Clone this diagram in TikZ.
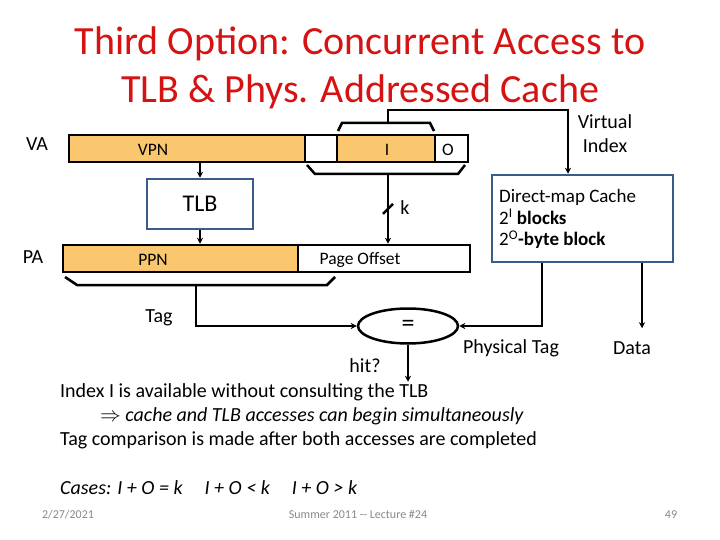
\documentclass[tikz,border=0pt]{standalone}
\usepackage{fontspec}
\setmainfont{Carlito}
\usetikzlibrary{shapes.geometric,arrows.meta,positioning}

\definecolor{titlered}{RGB}{214,18,18}
\definecolor{fieldorange}{RGB}{250,199,110}
\definecolor{boxblue}{RGB}{56,93,138}
\definecolor{footgray}{RGB}{137,137,137}

\tikzset{
  field/.style={draw, line width=2.5pt, minimum height=27pt, inner sep=0pt},
  hot/.style={field, fill=fieldorange},
  unitbox/.style={draw=boxblue, line width=2.5pt, inner sep=0pt},
  wire/.style={line width=2.5pt},
  arrow/.style={wire, -{Stealth[length=6pt,width=6pt]}},
  lbl/.style={inner sep=0pt, font=\fontsize{20}{24}\selectfont},
  small/.style={inner sep=0pt, font=\fontsize{17.5}{20}\selectfont},
  body/.style={inner sep=0pt, anchor=west, font=\fontsize{20}{24}\selectfont},
  foot/.style={inner sep=0pt, anchor=base, text=footgray, font=\fontsize{12}{14}\selectfont}
}

\begin{document}
\begin{tikzpicture}[x=1pt, y=-1pt]
\useasboundingbox[fill=white] (0,0) rectangle (720,540);

% title
\node[text=titlered, align=center, font=\fontsize{40}{48}\selectfont] (title) at (360,68)
  {Third Option: Concurrent Access to\\TLB \& Phys. Addressed Cache};

% VA bar
\node[hot, minimum width=236pt] (vpn) at (187,148.5) {};
\node[field, minimum width=32pt] (gap) at (321,148.5) {};
\node[hot, minimum width=98pt] (ifld) at (386,148.5) {};
\node[field, minimum width=33pt] (ofld) at (451.5,148.5) {};
\node[lbl] (va) at (37,144) {VA};
\node[small] (vpnlbl) at (153,150) {VPN};
\node[small] (ilbl) at (387,150) {I};
\node[small] (olbl) at (448,150) {O};

% brackets on VA
\draw[wire] (338,131) -- (342,123) -- (430,123) -- (434,131);
\coordinate (ibrk) at (388,123);
\draw[wire] (307,165) -- (315,174) -- (458,174) -- (465,165);
\coordinate (obrk) at (388,174);

% TLB
\node[unitbox, minimum width=106pt, minimum height=50pt,
  font=\fontsize{24}{28}\selectfont] (tlb) at (200,204) {TLB};

% PA bar
\node[hot, minimum width=235pt] (ppn) at (180.5,258.5) {};
\node[field, minimum width=172pt] (offs) at (384,258.5) {};
\node[lbl] (pa) at (33,257) {PA};
\node[small] (ppnlbl) at (153,260) {PPN};
\node[small] (offlbl) at (360,260) {Page Offset};

% tag bracket
\draw[wire] (65,277) -- (77,285) -- (327,285) -- (335,277);
\coordinate (tbrk) at (196,285);

% cache
\node[unitbox, minimum width=181pt, minimum height=87pt] (cache) at (582.5,218.5) {};
\node[inner sep=0pt, anchor=west, align=left, font=\fontsize{19}{21.5}\selectfont] (cachetxt)
  at (499,219) {Direct-map Cache\\2\textsuperscript{I} \textbf{blocks}\\2\textsuperscript{O}\textbf{-byte block}};
\node[lbl, align=center] (vindex) at (605,134) {Virtual\\Index};

% comparator
\node[draw, ellipse, line width=2.5pt, minimum width=100pt, minimum height=35pt,
  inner sep=0pt, font=\fontsize{26}{26}\selectfont] (cmp) at (408,326) {=};
\node[lbl] (tag) at (159,318) {Tag};
\node[lbl] (hit) at (365,366) {hit?};
\node[lbl] (phys) at (511,348) {Physical Tag};
\node[lbl] (data) at (632,348) {Data};

% connectors
\draw[arrow] (tlb.north |- vpn.south) -- (tlb.north);
\draw[arrow] (tlb.south) -- (tlb.south |- ppn.north);
\draw[arrow] (ibrk) -- ++(0,-13) -| ([xshift=-14.5pt]cache.north);
\draw[arrow] (obrk) -- (obrk |- offs.north);
\path (obrk) -- (obrk |- offs.north) coordinate[pos=0.5] (kmid);
\draw[wire] ([shift={(-5,5)}]kmid) -- ([shift={(5,-5)}]kmid);
\node[lbl] (k) at (405,208) {k};
\draw[arrow] (tbrk) |- (cmp.west);
\draw[arrow] ([xshift=-40.5pt]cache.south) |- (cmp.east);
\draw[arrow] ([xshift=59.5pt]cache.south) -- ++(0,65);
\draw[arrow] (cmp.south) -- ++(0,37);

% text below
\node[body] (line1) at (60,392) {Index I is available without consulting the TLB};
\node[body] (line2) at (100,416) {$\Rightarrow$ \textit{cache and TLB accesses can begin simultaneously}};
\node[body] (line3) at (60,440) {Tag comparison is made after both accesses are completed};
\node[body] (cases) at (60,488) {\textit{Cases: I + O = k\hspace{22pt}I + O < k\hspace{22pt}I + O > k}};

% footer
\node[foot] (date) at (68,518) {2/27/2021};
\node[foot] (course) at (358,518) {Summer 2011 -{}- Lecture \#24};
\node[foot] (page) at (671,518) {49};
\end{tikzpicture}
\end{document}
